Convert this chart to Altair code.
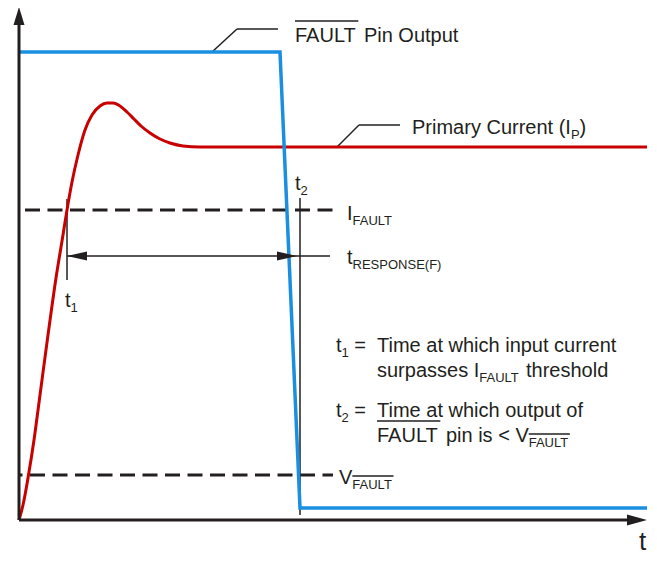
import altair as alt
import pandas as pd

# ---------------- data (time t to the right of the y axis, level l above the x axis) --------------
T_MIN, T_MAX = -11, 630
L_MIN, L_MAX = -35, 512

# Primary current I_P (red)
ip_time = [0, 4, 9, 15, 21, 29, 37, 44, 48, 53, 59, 66, 73, 81, 88, 94, 101, 108, 115, 122, 131, 141, 151, 164, 181, 628]
ip_level = [0, 15, 42, 80, 125, 185, 242, 285, 310, 338, 365, 390, 405, 414, 417, 417, 414, 408, 401, 394, 387, 381, 377, 374, 373, 373]

# FAULT pin output (blue)
fault_time = [0, 261, 281, 628]
fault_level = [468, 468, 12, 12]

I_FAULT_LEVEL = 310
V_FAULT_LEVEL = 45
THRESH_END = 314
T1 = 48
T2 = 281
RESP_LEVEL = 264
RESP_END = 311
AXIS_T_END = 608
AXIS_L_END = 495

RED = "#c90000"
BLUE = "#1a8fe0"
DARK = "#231f20"
FONT = "Liberation Sans"
MAIN = 20
SUB = 13

# Arial / Liberation Sans advance widths (per 1000 em)
AW = {" ": 278, "(": 333, ")": 333, "<": 584, "=": 584,
      "A": 667, "C": 722, "E": 667, "F": 611, "I": 278, "L": 556, "N": 722, "O": 778,
      "P": 667, "R": 722, "S": 667, "T": 611, "U": 722, "V": 667,
      "a": 556, "c": 500, "d": 556, "e": 556, "f": 278, "h": 556, "i": 222, "l": 222,
      "m": 833, "n": 556, "o": 556, "p": 556, "r": 333, "s": 500, "t": 278, "u": 556,
      "w": 722, "y": 500, "1": 556, "2": 556}


def tw(s, size):
    return sum(AW.get(c, 556) for c in s) * size / 1000.0


# label specs: (t, baseline level, [(text, kind, overline)])
labels = [
    (276, 478, [("FAULT", "m", True), (" Pin Output", "m", False)]),
    (393, 386, [("Primary Current (I", "m", False), ("P", "s", False), (")", "m", False)]),
    (328, 300, [("I", "m", False), ("FAULT", "s", False)]),
    (328, 256, [("t", "m", False), ("RESPONSE(F)", "s", False)]),
    (276, 330, [("t", "m", False), ("2", "s", False)]),
    (46, 213, [("t", "m", False), ("1", "s", False)]),
    (320, 36, [("V", "m", False), ("FAULT", "s", True)]),
    (317, 168, [("t", "m", False), ("1", "s", False), (" =", "m", False)]),
    (358, 168, [("Time at which input current", "m", False)]),
    (358, 143, [("surpasses I", "m", False), ("FAULT", "s", False), (" threshold", "m", False)]),
    (317, 103, [("t", "m", False), ("2", "s", False), (" =", "m", False)]),
    (358, 103, [("Time at which output of", "m", False)]),
    (358, 78, [("FAULT", "m", True), (" pin is < V", "m", False), ("FAULT", "s", True)]),
]

text_rows, over_rows = [], []
for t0, base, parts in labels:
    x = t0
    for txt, kind, over in parts:
        size = MAIN if kind == "m" else SUB
        lv = base if kind == "m" else base - 5
        core = txt.lstrip(" ")
        x += tw(txt[: len(txt) - len(core)], size)
        text_rows.append(dict(t=x, l=lv, text=core, fs=size))
        w = tw(core, size)
        if over:
            off = 21 if kind == "m" else 13
            over_rows.append(dict(t=x, t2=x + w, l=lv + off, l2=lv + off))
        x += w
text_rows.append(dict(t=620, l=-30, text="t", fs=26))

# ---------------- encodings ----------------
xs = alt.Scale(domain=[T_MIN, T_MAX], nice=False, zero=False)
ys = alt.Scale(domain=[L_MIN, L_MAX], nice=False, zero=False)


def X():
    return alt.X("t:Q", scale=xs, axis=None)


def Y():
    return alt.Y("l:Q", scale=ys, axis=None)


def seg_chart(rows, **mark):
    df = pd.DataFrame(rows, columns=["t", "l", "t2", "l2"])
    return alt.Chart(df).mark_rule(**mark).encode(x=X(), y=Y(), x2="t2:Q", y2="l2:Q")


axes = seg_chart([(0, 0, 0, AXIS_L_END), (0, 0, AXIS_T_END, 0)], color=DARK, strokeWidth=3)

dash_i = seg_chart([(0, I_FAULT_LEVEL, THRESH_END, I_FAULT_LEVEL)], color=DARK, strokeWidth=3,
                   strokeDash=[15, 7.5], strokeDashOffset=16.5)
dash_v = seg_chart([(0, V_FAULT_LEVEL, THRESH_END, V_FAULT_LEVEL)], color=DARK, strokeWidth=3,
                   strokeDash=[15, 7.5], strokeDashOffset=11.5)

thin = seg_chart([
    (T1, 321, T1, 240),
    (T2, 322, T2, 5),
    (T1, RESP_LEVEL, RESP_END, RESP_LEVEL),
    (193, 468, 218, 491), (218, 491, 259, 491),
    (318, 373, 340, 395), (340, 395, 381, 395),
], color=DARK, strokeWidth=1.5)

overlines = alt.Chart(pd.DataFrame(over_rows)).mark_rule(color=DARK, strokeWidth=1.3).encode(
    x=X(), y=Y(), x2="t2:Q", y2="l2:Q")

ip_df = pd.DataFrame({"t": ip_time, "l": ip_level, "o": list(range(len(ip_time)))})
red = alt.Chart(ip_df).mark_line(color=RED, strokeWidth=3, interpolate="monotone").encode(
    x=X(), y=Y(), order="o:Q")

fault_df = pd.DataFrame({"t": fault_time, "l": fault_level, "o": list(range(len(fault_time)))})
blue = alt.Chart(fault_df).mark_line(color=BLUE, strokeWidth=3.5, strokeJoin="miter").encode(
    x=X(), y=Y(), order="o:Q")

heads = pd.DataFrame([
    dict(t=0, l=504, shape="M0,-1L0.61,1L-0.61,1Z", sz=324),
    dict(t=618, l=0, shape="M1,0L-1,-0.55L-1,0.55Z", sz=400),
    dict(t=58, l=RESP_LEVEL, shape="M-1,0L1,-0.45L1,0.45Z", sz=400),
    dict(t=268, l=RESP_LEVEL, shape="M1,0L-1,-0.45L-1,0.45Z", sz=400),
])
arrow_heads = alt.Chart(heads).mark_point(filled=True, opacity=1, color=DARK, strokeWidth=0).encode(
    x=X(), y=Y(), shape=alt.Shape("shape:N", scale=None), size=alt.Size("sz:Q", scale=None))

texts = alt.Chart(pd.DataFrame(text_rows)).mark_text(
    align="left", baseline="alphabetic", font=FONT, color=DARK).encode(
    x=X(), y=Y(), text="text:N", size=alt.Size("fs:Q", scale=None))

chart = alt.layer(
    dash_i, dash_v, thin, red, blue, axes, arrow_heads, overlines, texts
).properties(
    width=641, height=547, padding=0, autosize=alt.AutoSizeParams(type="none"), background="white"
).configure_view(stroke=None)

chart.save("out.html", embed_options={"renderer": "svg", "actions": False})
